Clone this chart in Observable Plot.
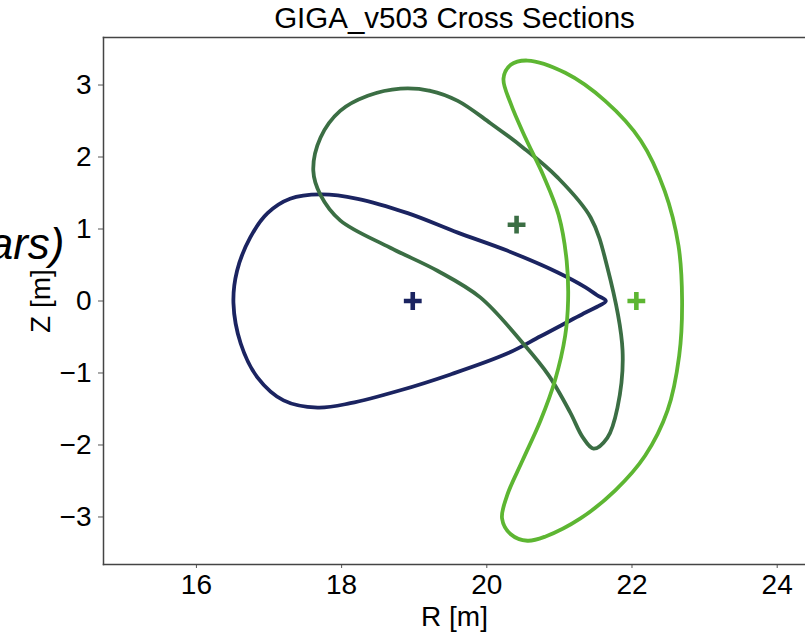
<!DOCTYPE html>
<html>
<head>
<meta charset="utf-8">
<script src="https://cdn.jsdelivr.net/npm/d3@7"></script>
<script src="https://cdn.jsdelivr.net/npm/@observablehq/plot@0.6"></script>
<style>
  body { margin: 0; background: #fff; }
</style>
</head>
<body>
<div id="chart"></div>
<script>
// ---------- data ----------
const title = "GIGA_v503 Cross Sections";
const xLabel = "R [m]";
const yLabel = "Z [m]";
const overlayText = "ars)";
const xTicks = [16, 18, 20, 22, 24];
const yTicks = [-3, -2, -1, 0, 1, 2, 3];
const seriesNames = ["phi0", "phi1", "phi2"];
const seriesColors = ["#1b2461", "#3b6e44", "#5db632"];

// navy cross section (R, Z)
const navyR = [21.64, 21.52, 21.36, 20.97, 20.28, 19.60, 18.91, 18.22, 17.71, 17.29, 16.98, 16.74, 16.56, 16.51,
               16.61, 16.84, 17.20, 17.67, 18.12, 18.81, 19.50, 20.28, 20.74, 21.36, 21.52];
const navyZ = [0.00, 0.08, 0.19, 0.40, 0.70, 0.95, 1.22, 1.42, 1.48, 1.42, 1.22, 0.88, 0.42, -0.03,
               -0.59, -1.06, -1.38, -1.48, -1.42, -1.24, -1.02, -0.73, -0.49, -0.16, -0.08];

// dark green cross section
const darkR = [18.81, 19.22, 19.60, 20.05, 20.50, 20.97, 21.43, 21.66, 21.87, 21.80, 21.66, 21.47, 21.32, 21.15,
               20.85, 20.50, 19.91, 19.32, 18.67, 17.98, 17.71, 17.61, 17.71, 17.98, 18.36];
const darkZ = [2.95, 2.92, 2.78, 2.47, 2.13, 1.72, 1.16, 0.47, -0.69, -1.48, -1.90, -2.05, -1.89, -1.55,
               -1.03, -0.59, 0.05, 0.42, 0.74, 1.12, 1.47, 1.81, 2.27, 2.64, 2.85];

// light green cross section
const lightR = [20.56, 21.08, 21.63, 22.12, 22.45, 22.64, 22.69, 22.65, 22.49, 22.18, 21.77, 21.29, 20.81, 20.56,
                20.33, 20.21, 20.28, 20.49, 20.74, 20.94, 21.08, 21.12, 21.10, 20.99, 20.78, 20.53, 20.33, 20.23, 20.33];
const lightZ = [3.34, 3.17, 2.78, 2.23, 1.53, 0.77, 0.01, -0.76, -1.52, -2.15, -2.63, -3.02, -3.27, -3.33,
                -3.24, -3.02, -2.70, -2.22, -1.66, -1.10, -0.48, 0.01, 0.56, 1.19, 1.74, 2.27, 2.74, 3.09, 3.28];

// magnetic axis positions
const centerR = [18.98, 20.41, 22.06];
const centerZ = [0.00, 1.06, 0.00];

// ---------- build tables ----------
const shapes = [];
[[navyR, navyZ], [darkR, darkZ], [lightR, lightZ]].forEach(([R, Z], i) => {
  R.forEach((r, j) => shapes.push({R: r, Z: Z[j], s: seriesNames[i]}));
});
const centers = seriesNames.map((s, i) => ({R: centerR[i], Z: centerZ[i], s}));

const fmt = d => d < 0 ? "\u2212" + (-d) : String(d);
const FS = 28;

const chart = Plot.plot({
  width: 805,
  height: 634,
  marginTop: 37,
  marginBottom: 70,
  marginLeft: 103,
  marginRight: 0,
  style: {fontFamily: "'Liberation Sans', Arial, sans-serif", fontSize: FS + "px", background: "#fff", color: "#000"},
  x: {domain: [14.72, 24.39]},
  y: {domain: [-3.66, 3.66]},
  color: {domain: seriesNames, range: seriesColors},
  marks: [
    Plot.axisX({ticks: xTicks, tickSize: 4, tickPadding: 6, label: null, fontSize: FS, tickFormat: fmt, stroke: "#555"}),
    Plot.axisY({ticks: yTicks, tickSize: 5, tickPadding: 7, label: null, fontSize: FS, tickFormat: fmt, stroke: "#555"}),
    Plot.frame({anchor: "top", stroke: "#444", strokeWidth: 1.5}),
    Plot.frame({anchor: "left", stroke: "#444", strokeWidth: 1.5}),
    Plot.frame({anchor: "bottom", stroke: "#444", strokeWidth: 1.5}),
    Plot.line(shapes, {x: "R", y: "Z", z: "s", stroke: "s", strokeWidth: 3.8, curve: "catmull-rom-closed"}),
    Plot.dot(centers, {x: "R", y: "Z", stroke: "s", symbol: "plus", r: 5.8, strokeWidth: 4.6}),
    Plot.text([title], {frameAnchor: "top", lineAnchor: "middle", dy: -19, fontSize: 29.5, fill: "#000"}),
    Plot.text([xLabel], {frameAnchor: "bottom", lineAnchor: "middle", dy: 53, fontSize: FS, fill: "#000"}),
    Plot.text([yLabel], {frameAnchor: "left", textAnchor: "middle", lineAnchor: "middle", dx: -62, rotate: -90, fontSize: FS, fill: "#000"}),
    Plot.text([overlayText], {frameAnchor: "left", lineAnchor: "middle", dx: -39, dy: -56, textAnchor: "end", fontSize: 44, fontStyle: "italic", fill: "#000"})
  ]
});
document.getElementById("chart").appendChild(chart);
</script>
</body>
</html>
